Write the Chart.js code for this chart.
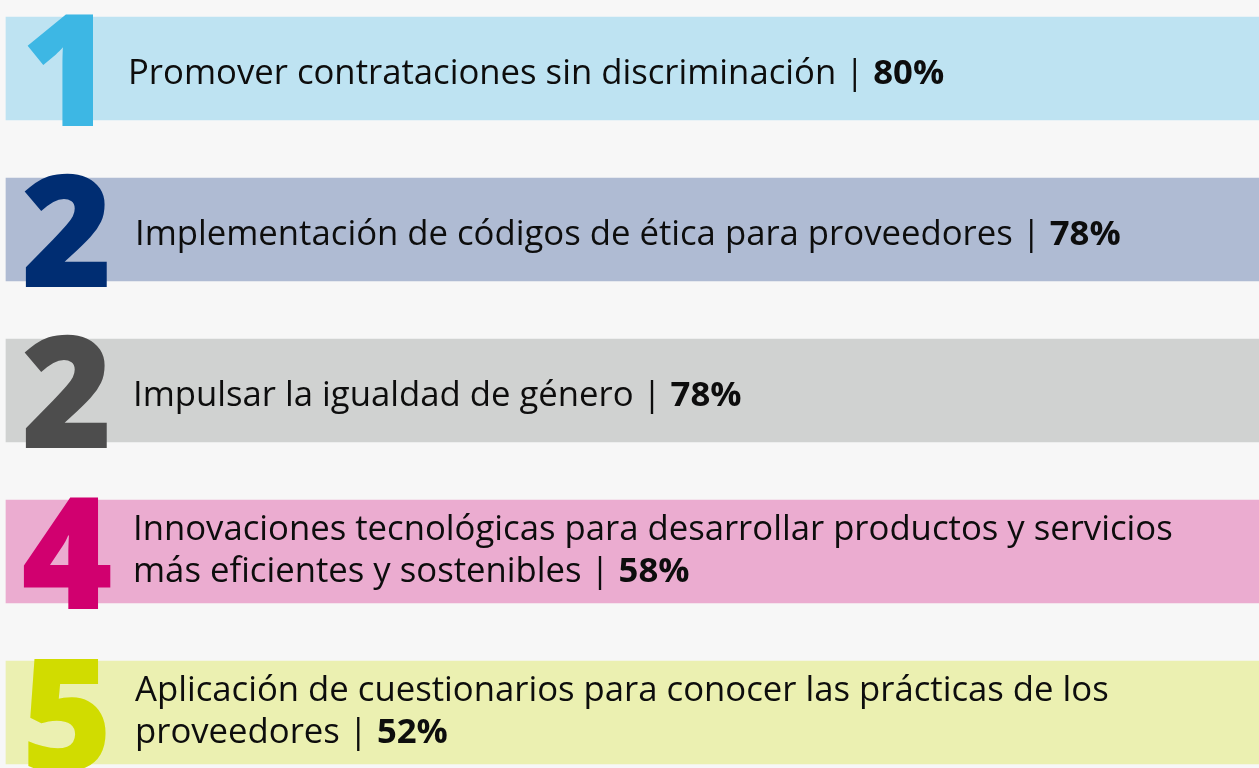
<!DOCTYPE html>
<html>
<head>
<meta charset="utf-8">
<script src="https://cdn.jsdelivr.net/npm/chart.js@4.4.1/dist/chart.umd.min.js"></script>
<style>
  html, body { margin: 0; padding: 0; background: #f7f7f7; overflow: hidden; }
  #wrap { position: relative; width: 1259px; height: 768px; }
</style>
</head>
<body>
<div id="wrap"><canvas id="c" width="1259" height="768"></canvas></div>
<script>
// ---- data ----
const categories = [
  ["Promover contrataciones sin discriminación"],
  ["Implementación de códigos de ética para proveedores"],
  ["Impulsar la igualdad de género"],
  ["Innovaciones tecnológicas para desarrollar productos y servicios", "más eficientes y sostenibles"],
  ["Aplicación de cuestionarios para conocer las prácticas de los", "proveedores"]
];
const values = [80, 78, 78, 58, 52];
const ranks = ["1", "2", "2", "4", "5"];
const bandExtent = [100, 100, 100, 100, 100];

// ---- styles ----
const bandColors  = ["#bee3f2", "#afbbd3", "#d0d2d1", "#ebacd0", "#ebf0b1"];
const digitColors = ["#3db7e4", "#002d72", "#4d4d4d", "#d1006f", "#d1dc00"];
const textLeft    = [128, 135, 133, 133, 135];

const labelPlugin = {
  id: 'bandLabels',
  afterDatasetsDraw(chart) {
    const ctx = chart.ctx;
    const meta = chart.getDatasetMeta(0);
    const fs = 34.7;
    meta.data.forEach((bar, i) => {
      const cy = bar.y;
      // big rank number
      ctx.save();
      ctx.font = '800 156px "Open Sans"';
      ctx.fillStyle = digitColors[i];
      ctx.textAlign = 'center';
      ctx.textBaseline = 'alphabetic';
      ctx.fillText(ranks[i], 67, cy + 57);
      ctx.restore();

      // label text
      const lines = categories[i];
      const n = lines.length;
      const x0 = textLeft[i];
      const baselines = n === 1 ? [cy + 15] : [cy - 11.5, cy + 30];
      ctx.save();
      ctx.textAlign = 'left';
      ctx.textBaseline = 'alphabetic';
      ctx.fillStyle = '#0d0d0d';
      lines.forEach((ln, j) => {
        ctx.font = '400 ' + fs + 'px "Open Sans"';
        let txt = ln;
        if (j === n - 1) txt = ln + ' | ';
        ctx.fillText(txt, x0, baselines[j]);
        if (j === n - 1) {
          const w = ctx.measureText(txt).width;
          ctx.font = '700 ' + fs + 'px "Open Sans"';
          ctx.fillText(values[i] + '%', x0 + w, baselines[j]);
        }
      });
      ctx.restore();
    });
  }
};

function draw() {
  new Chart(document.getElementById('c'), {
    type: 'bar',
    data: {
      labels: categories.map(c => c.join(' ')),
      datasets: [{
        data: bandExtent,
        backgroundColor: bandColors,
        borderWidth: 0,
        barThickness: 103,
        clip: false
      }]
    },
    options: {
      indexAxis: 'y',
      responsive: false,
      animation: false,
      events: [],
      layout: { padding: { left: 6, right: 0, top: 68.5, bottom: 55.5 } },
      plugins: { legend: { display: false }, tooltip: { enabled: false } },
      scales: {
        x: { display: false, min: 0, max: 100 },
        y: { display: false, offset: false, grid: { display: false } }
      }
    },
    plugins: [labelPlugin]
  });
}

Promise.all([
  document.fonts.load('400 34px "Open Sans"'),
  document.fonts.load('700 34px "Open Sans"'),
  document.fonts.load('800 156px "Open Sans"')
]).then(draw, draw);
</script>
</body>
</html>
